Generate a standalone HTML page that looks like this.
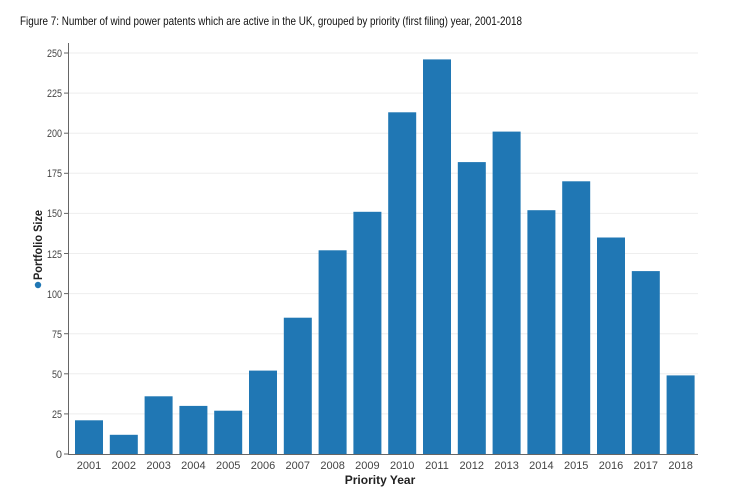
<!DOCTYPE html>
<html><head><style>body{margin:0;background:#fff;}svg{display:block}</style></head><body>
<svg width="736" height="497" xmlns="http://www.w3.org/2000/svg" font-family="Liberation Sans, sans-serif">
<text x="20" y="25" font-size="12" fill="#111" textLength="502" lengthAdjust="spacingAndGlyphs">Figure 7: Number of wind power patents which are active in the UK, grouped by priority (first filing) year, 2001-2018</text>
<g stroke="#eee">
<line x1="69" x2="698" y1="413.9" y2="413.9"/><line x1="69" x2="698" y1="373.8" y2="373.8"/><line x1="69" x2="698" y1="333.7" y2="333.7"/><line x1="69" x2="698" y1="293.6" y2="293.6"/><line x1="69" x2="698" y1="253.5" y2="253.5"/><line x1="69" x2="698" y1="213.4" y2="213.4"/><line x1="69" x2="698" y1="173.3" y2="173.3"/><line x1="69" x2="698" y1="133.2" y2="133.2"/><line x1="69" x2="698" y1="93.1" y2="93.1"/><line x1="69" x2="698" y1="53" y2="53"/>
</g>
<g stroke="#666">
<line x1="64" x2="68" y1="454" y2="454"/><line x1="64" x2="68" y1="413.9" y2="413.9"/><line x1="64" x2="68" y1="373.8" y2="373.8"/><line x1="64" x2="68" y1="333.7" y2="333.7"/><line x1="64" x2="68" y1="293.6" y2="293.6"/><line x1="64" x2="68" y1="253.5" y2="253.5"/><line x1="64" x2="68" y1="213.4" y2="213.4"/><line x1="64" x2="68" y1="173.3" y2="173.3"/><line x1="64" x2="68" y1="133.2" y2="133.2"/><line x1="64" x2="68" y1="93.1" y2="93.1"/><line x1="64" x2="68" y1="53" y2="53"/>
</g>
<g fill="#2077b4">
<rect x="75" y="420.3" width="28" height="33.7"/>
<rect x="109.8" y="434.8" width="28" height="19.2"/>
<rect x="144.6" y="396.3" width="28" height="57.7"/>
<rect x="179.4" y="405.9" width="28" height="48.1"/>
<rect x="214.2" y="410.7" width="28" height="43.3"/>
<rect x="249" y="370.6" width="28" height="83.4"/>
<rect x="283.8" y="317.7" width="28" height="136.3"/>
<rect x="318.6" y="250.3" width="28" height="203.7"/>
<rect x="353.4" y="211.8" width="28" height="242.2"/>
<rect x="388.2" y="112.3" width="28" height="341.7"/>
<rect x="423" y="59.4" width="28" height="394.6"/>
<rect x="457.8" y="162.1" width="28" height="291.9"/>
<rect x="492.6" y="131.6" width="28" height="322.4"/>
<rect x="527.4" y="210.2" width="28" height="243.8"/>
<rect x="562.2" y="181.3" width="28" height="272.7"/>
<rect x="597" y="237.5" width="28" height="216.5"/>
<rect x="631.8" y="271.1" width="28" height="182.9"/>
<rect x="666.6" y="375.4" width="28" height="78.6"/>
</g>
<line x1="68.5" y1="43" x2="68.5" y2="454" stroke="#666"/>
<line x1="68" y1="454.5" x2="698" y2="454.5" stroke="#666"/>
<g font-size="11" fill="#444" text-anchor="end">
<text x="62" y="458">0</text><text x="62" y="418" textLength="10" lengthAdjust="spacingAndGlyphs">25</text><text x="62" y="378" textLength="10" lengthAdjust="spacingAndGlyphs">50</text><text x="62" y="338" textLength="10" lengthAdjust="spacingAndGlyphs">75</text><text x="62" y="298" textLength="15" lengthAdjust="spacingAndGlyphs">100</text><text x="62" y="258" textLength="15" lengthAdjust="spacingAndGlyphs">125</text><text x="62" y="217" textLength="15" lengthAdjust="spacingAndGlyphs">150</text><text x="62" y="177" textLength="15" lengthAdjust="spacingAndGlyphs">175</text><text x="62" y="137" textLength="15" lengthAdjust="spacingAndGlyphs">200</text><text x="62" y="97" textLength="15" lengthAdjust="spacingAndGlyphs">225</text><text x="62" y="57" textLength="15" lengthAdjust="spacingAndGlyphs">250</text>
</g>
<g font-size="11" fill="#444" text-anchor="middle">
<text x="89" y="469">2001</text><text x="123.8" y="469">2002</text><text x="158.6" y="469">2003</text><text x="193.4" y="469">2004</text><text x="228.2" y="469">2005</text><text x="263" y="469">2006</text><text x="297.8" y="469">2007</text><text x="332.6" y="469">2008</text><text x="367.4" y="469">2009</text><text x="402.2" y="469">2010</text><text x="437" y="469">2011</text><text x="471.8" y="469">2012</text><text x="506.6" y="469">2013</text><text x="541.4" y="469">2014</text><text x="576.2" y="469">2015</text><text x="611" y="469">2016</text><text x="645.8" y="469">2017</text><text x="680.6" y="469">2018</text>
</g>
<text x="380" y="484" font-size="12" font-weight="bold" fill="#222" text-anchor="middle">Priority Year</text>
<text transform="translate(42,245) rotate(-90)" font-size="12" font-weight="bold" fill="#222" text-anchor="middle" textLength="70" lengthAdjust="spacingAndGlyphs">Portfolio Size</text>
<circle cx="38" cy="285" r="3.2" fill="#2077b4"/>
</svg>
</body></html>
